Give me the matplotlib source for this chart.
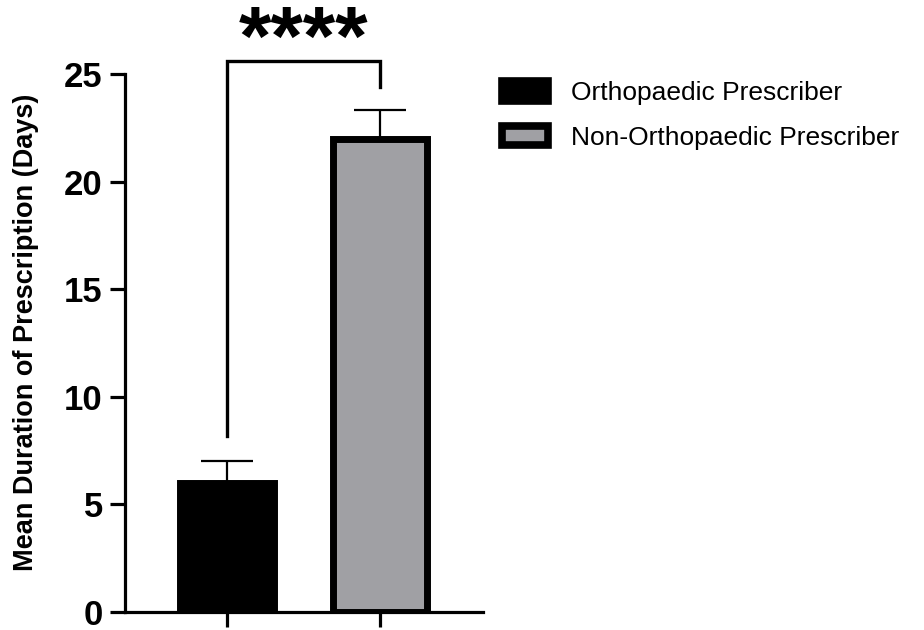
import matplotlib.pyplot as plt
from matplotlib.patches import Patch

plt.rcParams['font.family'] = ['Liberation Sans', 'DejaVu Sans']

# 数据
groups = ['Orthopaedic Prescriber', 'Non-Orthopaedic Prescriber']
means = [6.0, 22.0]
errors = [1.0, 1.33]
colors = ['black', '#a0a0a4']
# 显著性标注：左端底部、顶部、右端底部
bracket = [8.2, 25.6, 24.4]
stars = '****'
ylabel = 'Mean Duration of Prescription (Days)'

fig = plt.figure(figsize=(9.24, 6.3), dpi=100)
ax = fig.add_axes([125 / 924, 18 / 630, 358 / 924, 538 / 630])

x = [0, 1]
ax.bar(x, means, width=0.62, color=colors, edgecolor='black', linewidth=5, zorder=2)
for xi, m, e in zip(x, means, errors):
    ax.errorbar(xi, m, yerr=[[0], [e]], fmt='none', ecolor='black',
                elinewidth=1.6, capsize=18.5, capthick=1.6, zorder=1)

# 括号和星号
ax.plot([0, 0, 1, 1], [bracket[0], bracket[1], bracket[1], bracket[2]],
        color='black', linewidth=2.4, clip_on=False, solid_joinstyle='miter')
ax.text(0.5, 26.45, stars, ha='center', va='center', fontsize=60,
        fontweight='bold')

ax.set_xlim(-0.667, 1.673)
ax.set_ylim(0, 25)
ax.set_yticks([0, 5, 10, 15, 20, 25])
ax.set_xticks(x)
ax.set_xticklabels(['', ''])

for s in ['top', 'right']:
    ax.spines[s].set_visible(False)
for s in ['left', 'bottom']:
    ax.spines[s].set_linewidth(2.3)
ax.tick_params(axis='both', width=2.3, length=11)
ax.tick_params(axis='y', pad=5)

for label in ax.get_yticklabels():
    label.set_fontsize(25)
    label.set_fontweight('bold')

ax.set_ylabel(ylabel, fontsize=19.5, fontweight='bold')
ax.yaxis.set_label_coords(-0.24, 0.52)

handles = [Patch(facecolor=c, edgecolor='black', linewidth=5.5) for c in colors]
fig.legend(handles, groups, loc='upper left', bbox_to_anchor=(502 / 924, 1 - 81 / 630),
           frameon=False, fontsize=19, handlelength=1.74, handleheight=0.76,
           handletextpad=0.87, labelspacing=0.78, borderaxespad=0, borderpad=0)

plt.savefig('out.png', dpi=100)
